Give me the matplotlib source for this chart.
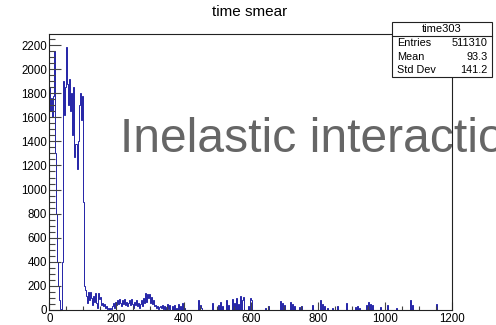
import numpy as np
import matplotlib
matplotlib.use('Agg')
import matplotlib.pyplot as plt
from matplotlib.patches import Rectangle
from matplotlib.lines import Line2D
from matplotlib.ticker import MultipleLocator

plt.rcParams['font.family'] = ['Liberation Sans', 'DejaVu Sans']

# ---------------- data ----------------
title = "time smear"
hist_name = "time303"
stat_labels = ["Entries", "Mean", "Std Dev"]
stat_values = ["511310", "93.3", "141.2"]
annotation = "Inelastic interaction"

bin_width = 3
x_min, x_max = 0, 1200

# bins from 0 to 105 (width 3)
peak_counts = [1850, 1650, 1760, 1600, 1780, 2150, 1300, 800, 400, 200,
               80, 10, 0, 400, 1900, 1620, 1850, 2180, 1880, 1700,
               1920, 1650, 1800, 1450, 1850, 1270, 1380, 1170, 1400, 1700,
               1800, 1580, 1780, 900, 200]

# bins from 105 to 360 (width 3)
noise_counts = [170, 120, 60, 150, 80, 150, 100, 40, 120, 70,
                140, 60, 20, 140, 90, 110, 40, 60, 30, 50,
                20, 30, 10, 20, 0, 15, 10, 30, 60, 20,
                70, 40, 80, 50, 90, 60, 30, 80, 50, 90,
                40, 70, 30, 60, 80, 40, 90, 50, 20, 70,
                40, 80, 30, 60, 20, 50, 80, 30, 100, 60,
                140, 70, 130, 100, 130, 60, 110, 50, 80, 30,
                40, 20, 30, 10, 25, 30, 15, 40, 10, 30,
                0, 25, 50, 10, 40]

# isolated spikes beyond 360
spike_x = [366, 372, 378, 384, 390, 396, 402, 444, 450, 453,
           483, 501, 507, 513, 525, 531, 543, 549, 555, 561,
           567, 573, 576, 591, 597, 600, 642, 651, 687, 693,
           699, 717, 723, 729, 744, 750, 783, 807, 813, 819,
           828, 843, 858, 882, 909, 915, 921, 942, 948, 954,
           960, 984, 1005, 1032, 1074, 1080, 1152]
spike_counts = [30, 45, 20, 50, 30, 60, 20, 80, 40, 20,
                60, 45, 70, 30, 80, 40, 90, 60, 100, 50,
                120, 80, 110, 30, 100, 80, 20, 30, 75, 60,
                40, 65, 50, 30, 25, 35, 40, 85, 50, 30,
                20, 15, 30, 55, 25, 35, 20, 40, 65, 50,
                45, 25, 45, 20, 80, 40, 50]

edges = np.arange(x_min, x_max + bin_width, bin_width)
counts = np.zeros(len(edges) - 1)
counts[:len(peak_counts)] = peak_counts
start = len(peak_counts)
counts[start:start + len(noise_counts)] = noise_counts
idx = ((np.array(spike_x) - x_min) // bin_width).astype(int)
counts[idx] = spike_counts

# ---------------- figure ----------------
W, H = 496, 325
fig = plt.figure(figsize=(W / 100, H / 100), dpi=100)
ax = fig.add_axes([49.3 / W, 1 - 310 / H, (452.3 - 49.3) / W, (310 - 33.7) / H])

ax.stairs(counts, edges, color='#000099', linewidth=0.6, baseline=0)

ax.set_xlim(0, 1200)
ax.set_ylim(0, 2294)
ax.xaxis.set_major_locator(MultipleLocator(200))
ax.xaxis.set_minor_locator(MultipleLocator(50))
ax.yaxis.set_major_locator(MultipleLocator(200))
ax.yaxis.set_minor_locator(MultipleLocator(50))

for s in ax.spines.values():
    s.set_linewidth(0.8)
    s.set_color('#222222')

ax.tick_params(axis='y', which='major', direction='in', length=8.4, width=0.8,
               color='#444444', labelsize=8.3, pad=1.5, right=False)
ax.tick_params(axis='y', which='minor', direction='in', length=4.3, width=0.8,
               color='#444444', right=False)
ax.tick_params(axis='x', which='major', direction='in', length=5.8, width=0.8,
               color='#444444', labelsize=8.3, pad=2.5, top=False)
ax.tick_params(axis='x', which='minor', direction='in', length=3.2, width=0.8,
               color='#444444', top=False)

# title
fig.text(250 / W, 1 - 12.5 / H, title, ha='center', va='center', fontsize=11)

# big annotation (behind frame); it runs off the right edge as in the reference
ax.text(120 / W, 1 - 151.7 / H, annotation, transform=fig.transFigure,
        fontsize=34.6, color='#666666', ha='left', va='baseline',
        zorder=1, clip_on=False)

# stats box
bx0, bx1, by0, by1 = 391.7, 492.3, 22, 77.3
fig.add_artist(Rectangle((bx0 / W, 1 - by1 / H), (bx1 - bx0) / W, (by1 - by0) / H,
                         transform=fig.transFigure, facecolor='white',
                         edgecolor='#222222', linewidth=0.8, zorder=5))
fig.add_artist(Line2D([bx0 / W, bx1 / W], [1 - 35.7 / H, 1 - 35.7 / H],
                      transform=fig.transFigure, color='#222222',
                      linewidth=0.8, zorder=6))
fig.text((bx0 + bx1) / 2 / W, 1 - 29.3 / H, hist_name, ha='center', va='center',
         fontsize=8.0, zorder=7)
row_y = [43, 56.7, 70.3]
for lab, val, yy in zip(stat_labels, stat_values, row_y):
    fig.text(396.7 / W, 1 - yy / H, lab, ha='left', va='center', fontsize=7.8, zorder=7)
    fig.text(487.3 / W, 1 - yy / H, val, ha='right', va='center', fontsize=7.8, zorder=7)

fig.savefig('out.png', dpi=100)
